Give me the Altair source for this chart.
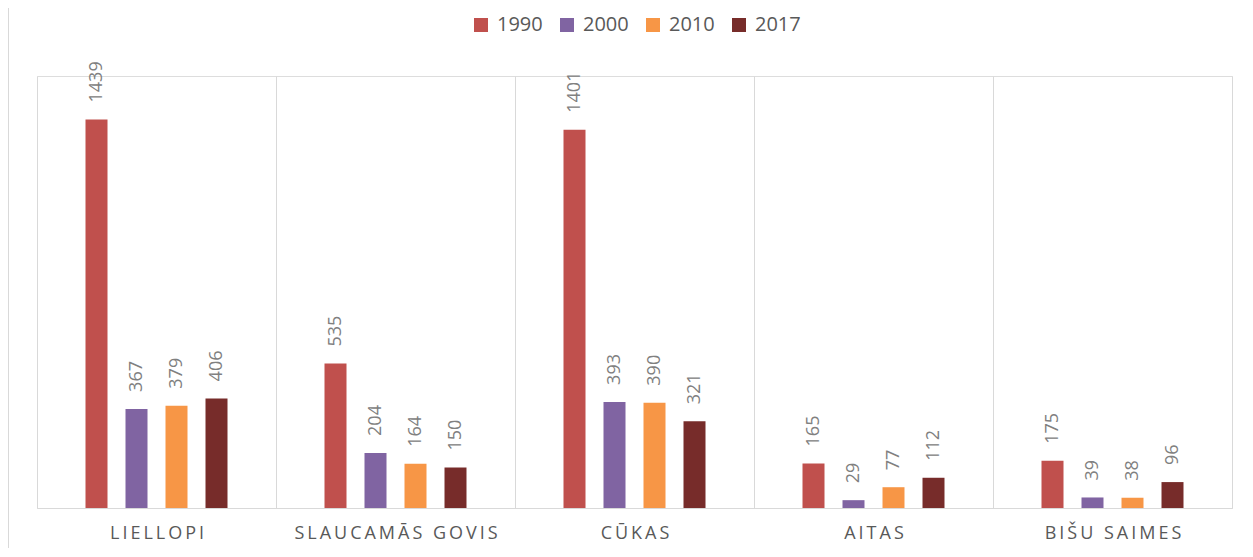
import altair as alt
import pandas as pd

categories = ["LIELLOPI", "SLAUCAMĀS GOVIS", "CŪKAS", "AITAS", "BIŠU SAIMES"]
years = ["1990", "2000", "2010", "2017"]
v1990 = [1439, 535, 1401, 165, 175]
v2000 = [367, 204, 393, 29, 39]
v2010 = [379, 164, 390, 77, 38]
v2017 = [406, 150, 321, 112, 96]
colors = ["#C0504D", "#8064A2", "#F79646", "#772C2A"]

rows = []
for yr, vals in zip(years, [v1990, v2000, v2010, v2017]):
    for c, v in zip(categories, vals):
        rows.append({"cat": c, "year": yr, "value": v})
df = pd.DataFrame(rows)

W, H = 1195, 432
FONT = "Open Sans"

x = alt.X("cat:N", sort=categories, title=None,
          scale=alt.Scale(paddingInner=0, paddingOuter=0),
          axis=alt.Axis(tickBand="extent", grid=True, gridColor="#d9d9d9", gridWidth=1,
                        ticks=False, domainColor="#d9d9d9", domainWidth=1,
                        labelFontSize=18, labelColor="#595959", labelPadding=16,
                        labelAngle=0, labelFont=FONT, labelLimit=400,
                        labelExpr="join(split(datum.label, ''), '\u2009')"))
xo = alt.XOffset("year:N", sort=years,
                 scale=alt.Scale(paddingInner=0.025, paddingOuter=1))
y = alt.Y("value:Q", title=None, scale=alt.Scale(domain=[0, 1600]), axis=None)

bars = alt.Chart(df).mark_bar(width=22).encode(
    x=x, xOffset=xo, y=y,
    color=alt.Color("year:N", sort=years,
                    scale=alt.Scale(domain=years, range=colors),
                    legend=alt.Legend(title=None, orient="none", direction="horizontal",
                                      legendX=434, legendY=-61,
                                      symbolType="square", symbolSize=196,
                                      symbolStrokeWidth=0,
                                      labelFontSize=20, labelColor="#595959",
                                      labelFont=FONT, labelOffset=6,
                                      columnPadding=14)),
)

labels = alt.Chart(df).mark_text(angle=270, align="left", baseline="middle", dx=17,
                                 fontSize=18, color="#808080", font=FONT).encode(
    x=x, xOffset=xo, y=y, text="value:Q"
)

border = alt.Chart(df).mark_rule(color="#d9d9d9", strokeWidth=1).encode(
    x=alt.value(-28.5), y=alt.value(-70), y2=alt.value(H + 41)
)

chart = alt.layer(bars, labels, border).properties(
    width=W, height=H,
    autosize=alt.AutoSizeParams(type="none"),
    padding={"left": 29, "top": 68, "right": 4, "bottom": 40},
).configure_view(stroke=None).configure(font=FONT)

chart.save("out.html", embed_options={"renderer": "svg", "actions": False})
